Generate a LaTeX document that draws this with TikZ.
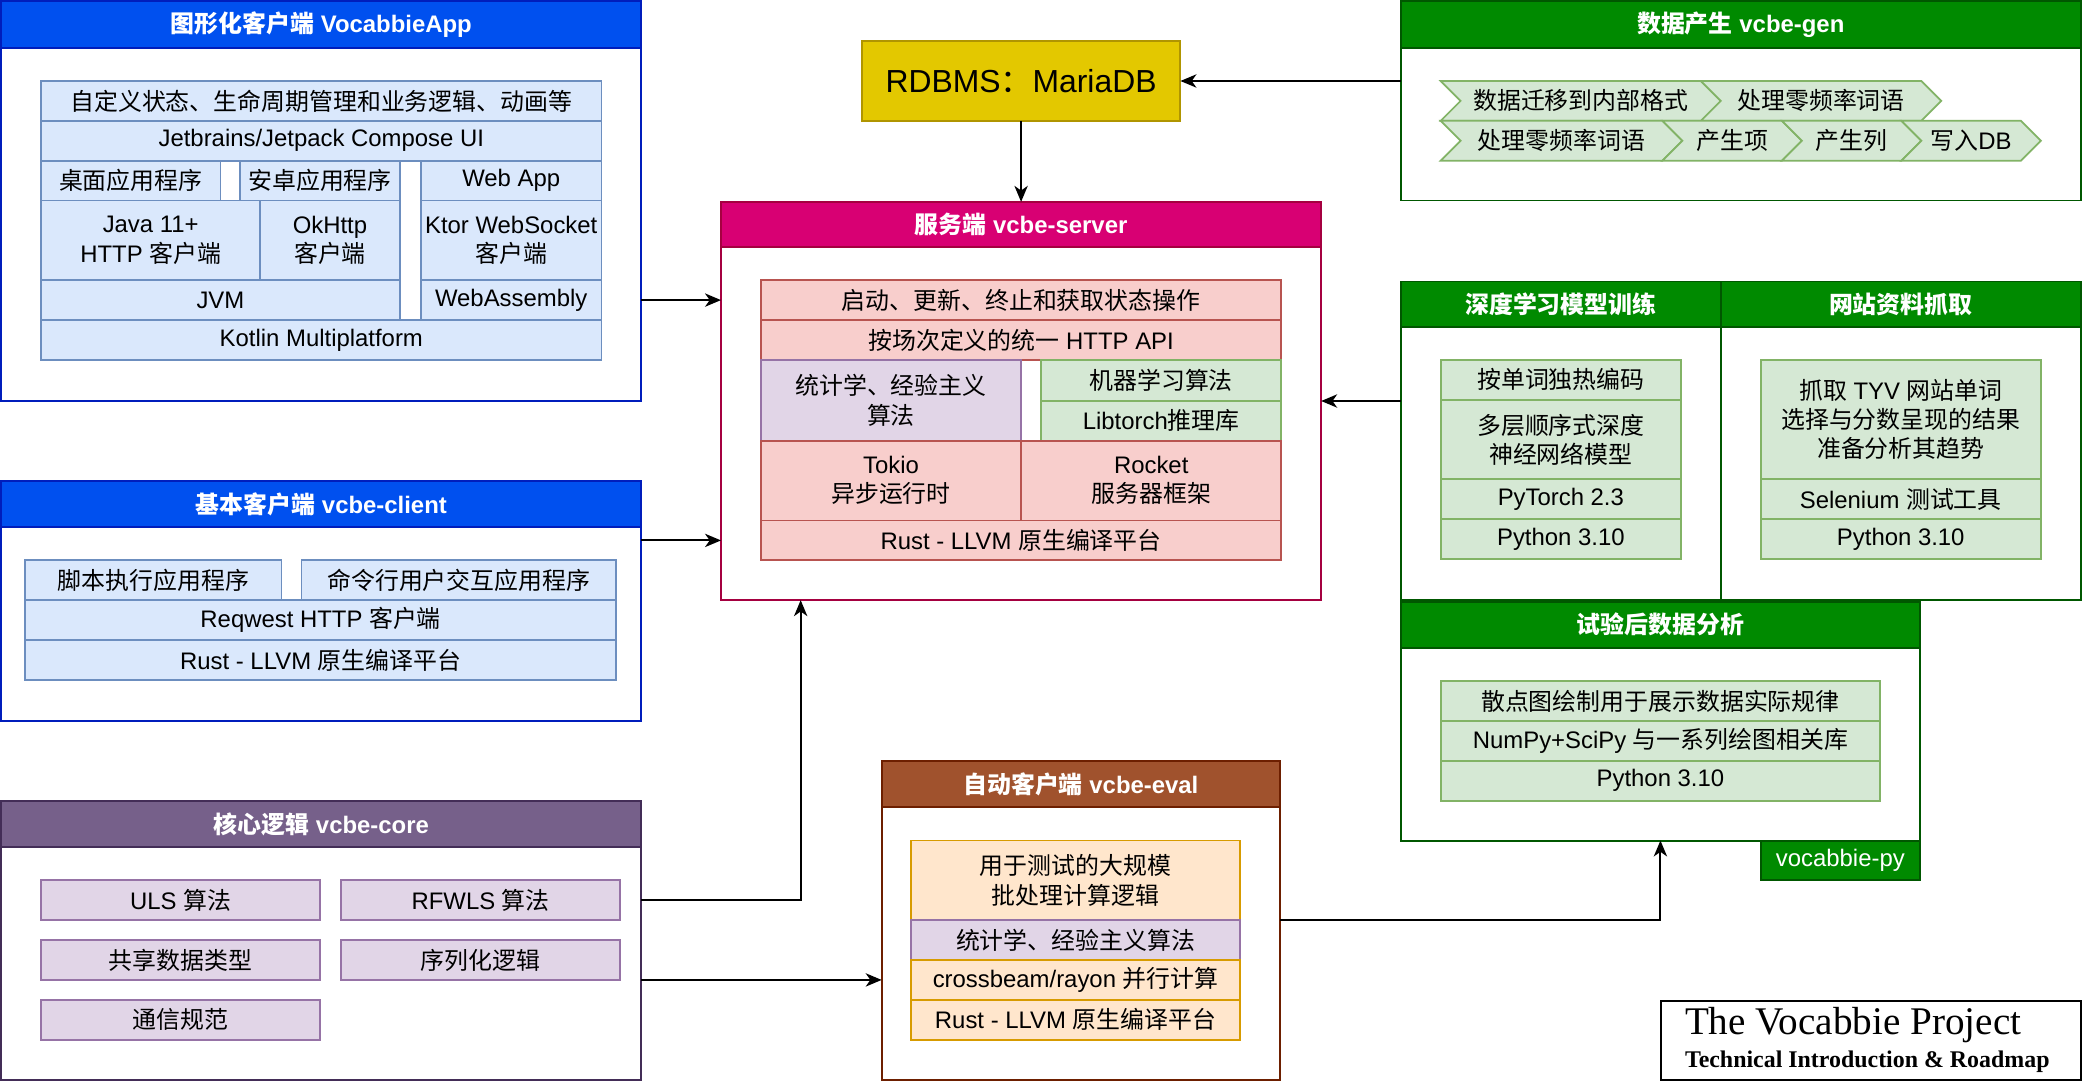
\documentclass[tikz,border=0pt]{standalone}
\usepackage{fontspec}
\setmainfont{Liberation Sans}
\newfontfamily\cjkfont{Noto Sans CJK SC}
\newfontfamily\serifttl{Liberation Serif}
\usetikzlibrary{arrows.meta,shapes.symbols}

\XeTeXinterchartokenstate=1
\newXeTeXintercharclass\cjkcls
\def\setcjkrange#1#2{\count255=#1 \loop\XeTeXcharclass\count255=\cjkcls \advance\count255 by 1 \ifnum\count255<#2 \repeat}
\setcjkrange{"3000}{"3040}
\setcjkrange{"4E00}{"A000}
\setcjkrange{"FF00}{"FFF0}
\XeTeXinterchartoks 0 \cjkcls = {\begingroup\cjkfont}
\XeTeXinterchartoks 4095 \cjkcls = {\begingroup\cjkfont}
\XeTeXinterchartoks \cjkcls 0 = {\endgroup}
\XeTeXinterchartoks \cjkcls 4095 = {\endgroup}

\definecolor{blueFill}{HTML}{0050EF}
\definecolor{blueLine}{HTML}{001DBC}
\definecolor{pinkFill}{HTML}{D80073}
\definecolor{pinkLine}{HTML}{A50040}
\definecolor{greenFill}{HTML}{008A00}
\definecolor{greenLine}{HTML}{005700}
\definecolor{violetFill}{HTML}{76608A}
\definecolor{violetLine}{HTML}{432D57}
\definecolor{brownFill}{HTML}{A0522D}
\definecolor{brownLine}{HTML}{6D1F00}
\definecolor{dbFill}{HTML}{E3C800}
\definecolor{dbLine}{HTML}{B09500}
\definecolor{cBlue}{HTML}{DAE8FC}
\definecolor{cBlueLine}{HTML}{6C8EBF}
\definecolor{cRed}{HTML}{F8CECC}
\definecolor{cRedLine}{HTML}{B85450}
\definecolor{cGreen}{HTML}{D5E8D4}
\definecolor{cGreenLine}{HTML}{82B366}
\definecolor{cViolet}{HTML}{E1D5E7}
\definecolor{cVioletLine}{HTML}{9673A6}
\definecolor{cOrange}{HTML}{FFE6CC}
\definecolor{cOrangeLine}{HTML}{D79B00}

\begin{document}
\begin{tikzpicture}[x=1pt,y=-1pt,
  font=\fontsize{18}{22}\selectfont,
  every node/.style={outer sep=0pt},
  wh/.style 2 args={minimum width=#1pt,minimum height=#2pt},
  frame/.style={draw=#1,fill=white,line width=1.5pt,anchor=north west,inner sep=0pt},
  head/.style 2 args={draw=#1,fill=#2,line width=1.5pt,anchor=north west,inner sep=0pt,text=white,font=\fontsize{18}{22}\selectfont\bfseries},
  cell/.style 2 args={draw=#1,fill=#2,line width=1.3pt,anchor=north west,inner sep=0pt,align=center},
  bluecell/.style={cell={cBlueLine}{cBlue}},
  redcell/.style={cell={cRedLine}{cRed}},
  greencell/.style={cell={cGreenLine}{cGreen}},
  violetcell/.style={cell={cVioletLine}{cViolet}},
  orangecell/.style={cell={cOrangeLine}{cOrange}},
  chev/.style={signal,signal to=east,signal from=west,signal pointer angle=90,draw=cGreenLine,fill=cGreen,line width=1.3pt,inner sep=0pt,minimum height=30pt},
  link/.style={draw,line width=1.5pt,-{Stealth[length=12pt,width=10pt,inset=3.5pt]}}]
\useasboundingbox (0,0) rectangle (1568,816.4);

% VocabbieApp
\node[frame=blueLine,wh={482}{301}] (appBox) at (1,1) {};
\node[head={blueLine}{blueFill},wh={482}{35}] (appHead) at (1,1) {图形化客户端 VocabbieApp};
\node[bluecell,wh={422}{30}] (appLogic) at (31,61) {自定义状态、生命周期管理和业务逻辑、动画等};
\node[bluecell,wh={422}{30}] (appUi) at (31,91) {Jetbrains/Jetpack Compose UI};
\node[bluecell,wh={135}{30}] (appDesk) at (31,121) {桌面应用程序};
\node[bluecell,wh={120}{30}] (appDroid) at (181,121) {安卓应用程序};
\node[bluecell,wh={136}{30}] (appWeb) at (317,121) {Web App};
\node[bluecell,wh={165}{60}] (appJava) at (31,151) {Java 11+\\HTTP 客户端};
\node[bluecell,wh={105}{60}] (appOk) at (196,151) {OkHttp\\客户端};
\node[bluecell,wh={136}{60}] (appKtor) at (317,151) {Ktor WebSocket\\客户端};
\node[bluecell,wh={270}{30}] (appJvm) at (31,211) {JVM};
\node[bluecell,wh={136}{30}] (appWasm) at (317,211) {WebAssembly};
\node[bluecell,wh={422}{30}] (appKmp) at (31,241) {Kotlin Multiplatform};

% vcbe-client
\node[frame=blueLine,wh={482}{181}] (cliBox) at (1,362) {};
\node[head={blueLine}{blueFill},wh={482}{35}] (cliHead) at (1,362) {基本客户端 vcbe-client};
\node[bluecell,wh={193}{30}] (cliScript) at (19,422) {脚本执行应用程序};
\node[bluecell,wh={237}{30}] (cliCmd) at (227,422) {命令行用户交互应用程序};
\node[bluecell,wh={445}{30}] (cliHttp) at (19,452) {Reqwest HTTP 客户端};
\node[bluecell,wh={445}{30}] (cliRust) at (19,482) {Rust - LLVM 原生编译平台};

% vcbe-core
\node[frame=violetLine,wh={482}{210}] (coreBox) at (1,603) {};
\node[head={violetLine}{violetFill},wh={482}{35}] (coreHead) at (1,603) {核心逻辑 vcbe-core};
\node[violetcell,wh={210}{30}] (coreUls) at (31,663) {ULS 算法};
\node[violetcell,wh={210}{30}] (coreRfwls) at (257,663) {RFWLS 算法};
\node[violetcell,wh={210}{30}] (coreTypes) at (31,708) {共享数据类型};
\node[violetcell,wh={210}{30}] (coreSerde) at (257,708) {序列化逻辑};
\node[violetcell,wh={210}{30}] (coreProto) at (31,753) {通信规范};

% RDBMS
\node[draw=dbLine,fill=dbFill,line width=1.5pt,anchor=north west,wh={240}{60},font=\fontsize{24}{28}\selectfont] (dbBox) at (649,31) {RDBMS：MariaDB};

% vcbe-server
\node[frame=pinkLine,wh={452}{300}] (srvBox) at (543,152) {};
\node[head={pinkLine}{pinkFill},wh={452}{34}] (srvHead) at (543,152) {服务端 vcbe-server};
\node[redcell,wh={392}{30}] (srvOps) at (573,211) {启动、更新、终止和获取状态操作};
\node[redcell,wh={392}{30}] (srvApi) at (573,241) {按场次定义的统一 HTTP API};
\node[violetcell,wh={196}{61}] (srvStat) at (573,271) {统计学、经验主义\\算法};
\node[greencell,wh={181}{31}] (srvMl) at (784,271) {机器学习算法};
\node[greencell,wh={181}{30}] (srvTorch) at (784,302) {Libtorch推理库};
\node[redcell,wh={196}{60}] (srvTokio) at (573,332) {Tokio\\异步运行时};
\node[redcell,wh={196}{60}] (srvRocket) at (769,332) {Rocket\\服务器框架};
\node[redcell,wh={392}{30}] (srvRust) at (573,392) {Rust - LLVM 原生编译平台};

% vcbe-gen
\node[frame=greenLine,wh={512}{150}] (genBox) at (1055,1) {};
\node[head={greenLine}{greenFill},wh={512}{35}] (genHead) at (1055,1) {数据产生 vcbe-gen};
\node[chev,minimum width=211pt] (genMove) at (1190.5,76) {数据迁移到内部格式};
\node[chev,minimum width=181pt] (genZero) at (1371.5,76) {处理零频率词语};
\node[chev,minimum width=182pt] (genZeroB) at (1176,106) {处理零频率词语};
\node[chev,minimum width=105pt] (genItem) at (1304.5,106) {产生项};
\node[chev,minimum width=105pt] (genCol) at (1394.5,106) {产生列};
\node[chev,minimum width=105pt] (genDb) at (1484.5,106) {写入DB};

% vocabbie-py
\node[frame=greenLine,wh={241}{240}] (dlBox) at (1055,212) {};
\node[head={greenLine}{greenFill},wh={241}{34}] (dlHead) at (1055,212) {深度学习模型训练};
\node[frame=greenLine,wh={271}{240}] (webBox) at (1296,212) {};
\node[head={greenLine}{greenFill},wh={271}{34}] (webHead) at (1296,212) {网站资料抓取};
\node[greencell,wh={181}{30}] (dlOneHot) at (1085,271) {按单词独热编码};
\node[greencell,wh={181}{60}] (dlModel) at (1085,301) {多层顺序式深度\\神经网络模型};
\node[greencell,wh={181}{30}] (dlTorch) at (1085,361) {PyTorch 2.3};
\node[greencell,wh={181}{30}] (dlPy) at (1085,391) {Python 3.10};
\node[greencell,wh={211}{90}] (webTask) at (1326,271) {抓取 TYV 网站单词\\选择与分数呈现的结果\\准备分析其趋势};
\node[greencell,wh={211}{30}] (webSel) at (1326,361) {Selenium 测试工具};
\node[greencell,wh={211}{30}] (webPy) at (1326,391) {Python 3.10};

\node[frame=greenLine,wh={391}{180}] (anaBox) at (1055,453) {};
\node[head={greenLine}{greenFill},wh={391}{35}] (anaHead) at (1055,453) {试验后数据分析};
\node[greencell,wh={331}{30}] (anaPlot) at (1085,513) {散点图绘制用于展示数据实际规律};
\node[greencell,wh={331}{30}] (anaLib) at (1085,543) {NumPy+SciPy 与一系列绘图相关库};
\node[greencell,wh={331}{30}] (anaPy) at (1085,573) {Python 3.10};
\node[draw=greenLine,fill=greenFill,text=white,line width=1.5pt,anchor=north west,inner sep=0pt,wh={120}{30}] (pyTag) at (1326,633) {vocabbie-py};

% vcbe-eval
\node[frame=brownLine,wh={300}{240}] (evalBox) at (664,573) {};
\node[head={brownLine}{brownFill},wh={300}{35}] (evalHead) at (664,573) {自动客户端 vcbe-eval};
\node[orangecell,wh={248}{60}] (evalBatch) at (686,633) {用于测试的大规模\\批处理计算逻辑};
\node[violetcell,wh={248}{30}] (evalStat) at (686,693) {统计学、经验主义算法};
\node[orangecell,wh={248}{30}] (evalPar) at (686,723) {crossbeam/rayon 并行计算};
\node[orangecell,wh={248}{30}] (evalRust) at (686,753) {Rust - LLVM 原生编译平台};

% title
\node[draw=black,fill=white,line width=1.5pt,anchor=north west,inner sep=0pt,wh={316}{59}] (titleBox) at (1251,754) {};
\node[anchor=base west,inner sep=0pt,font=\serifttl\fontsize{29.5}{31}\selectfont] (titleMain) at (1269,779) {The Vocabbie Project};
\node[anchor=base west,inner sep=0pt,font=\serifttl\bfseries\fontsize{18}{20}\selectfont] (titleSub) at (1269,804) {Technical Introduction \& Roadmap};

% connectors
\coordinate (appOut) at (483,226);
\coordinate (cliOut) at (483,407);
\coordinate (coreOutA) at (483,678);
\coordinate (coreBend) at (603,678);
\coordinate (coreOutB) at (483,738);
\draw[link] (appOut) -- (appOut -| srvBox.west);
\draw[link] (cliOut) -- (cliOut -| srvBox.west);
\draw[link] (genBox.west |- dbBox.east) -- (dbBox.east);
\draw[link] (dbBox.south) -- (srvBox.north);
\draw[link] (dlBox.west |- srvBox.east) -- (srvBox.east);
\draw[link] (coreOutA) -- (coreBend) -- (coreBend |- srvBox.south);
\draw[link] (coreOutB) -- (coreOutB -| evalBox.west);
\draw[link] (evalBox.east) -- (evalBox.east -| anaBox.south) -- (anaBox.south);
\end{tikzpicture}
\end{document}
